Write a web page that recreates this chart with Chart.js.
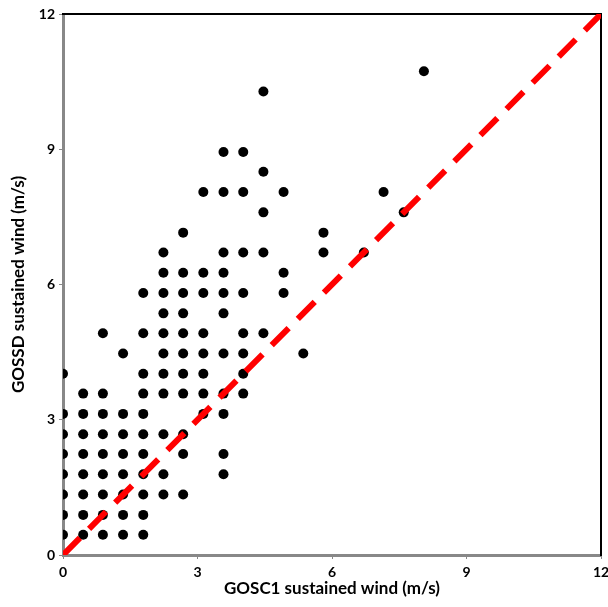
<!DOCTYPE html>
<html>
<head>
<meta charset="utf-8">
<script src="https://cdn.jsdelivr.net/npm/chart.js@4"></script>
<style>
  html, body { margin: 0; padding: 0; background: #fff; }
  #wrap { width: 608px; height: 607px; }
</style>
</head>
<body>
<div id="wrap"><canvas id="c" width="608" height="607"></canvas></div>
<script>
// GOSC1 sustained wind (x, m/s) and GOSSD sustained wind (y, m/s), paired
const gosc1 = [
  0, 0.45, 0.89, 1.34, 1.79,                         // y 0.45
  0, 0.45, 0.89, 1.34, 1.79,                         // y 0.89
  0, 0.45, 0.89, 1.34, 1.79, 2.24, 2.68,             // y 1.34
  0, 0.45, 0.89, 1.34, 1.79, 2.24, 3.58,             // y 1.79
  0, 0.45, 0.89, 1.34, 1.79, 2.68, 3.58,             // y 2.24
  0, 0.45, 0.89, 1.34, 1.79, 2.24, 2.68,             // y 2.68
  0, 0.45, 0.89, 1.34, 1.79, 3.13, 3.58,             // y 3.13
  0.45, 0.89, 1.79, 2.24, 2.68, 3.13, 3.58, 4.02,    // y 3.58
  0, 1.79, 2.24, 2.68, 3.13, 4.02,                   // y 4.02
  1.34, 2.24, 2.68, 3.13, 3.58, 4.02, 5.36,          // y 4.47
  0.89, 1.79, 2.24, 2.68, 3.13, 4.02, 4.47,          // y 4.92
  2.24, 2.68, 3.58,                                  // y 5.36
  1.79, 2.24, 2.68, 3.13, 3.58, 4.02, 4.92,          // y 5.81
  2.24, 2.68, 3.13, 3.58, 4.92,                      // y 6.26
  2.24, 3.58, 4.02, 4.47, 5.81, 6.71,                // y 6.71
  2.68, 5.81,                                        // y 7.15
  4.47, 7.60,                                        // y 7.60
  3.13, 3.58, 4.02, 4.92, 7.15,                      // y 8.05
  4.47,                                              // y 8.50
  3.58, 4.02,                                        // y 8.94
  4.47,                                              // y 10.28
  8.05                                               // y 10.73
];
const gossd = [
  0.45, 0.45, 0.45, 0.45, 0.45,
  0.89, 0.89, 0.89, 0.89, 0.89,
  1.34, 1.34, 1.34, 1.34, 1.34, 1.34, 1.34,
  1.79, 1.79, 1.79, 1.79, 1.79, 1.79, 1.79,
  2.24, 2.24, 2.24, 2.24, 2.24, 2.24, 2.24,
  2.68, 2.68, 2.68, 2.68, 2.68, 2.68, 2.68,
  3.13, 3.13, 3.13, 3.13, 3.13, 3.13, 3.13,
  3.58, 3.58, 3.58, 3.58, 3.58, 3.58, 3.58, 3.58,
  4.02, 4.02, 4.02, 4.02, 4.02, 4.02,
  4.47, 4.47, 4.47, 4.47, 4.47, 4.47, 4.47,
  4.92, 4.92, 4.92, 4.92, 4.92, 4.92, 4.92,
  5.36, 5.36, 5.36,
  5.81, 5.81, 5.81, 5.81, 5.81, 5.81, 5.81,
  6.26, 6.26, 6.26, 6.26, 6.26,
  6.71, 6.71, 6.71, 6.71, 6.71, 6.71,
  7.15, 7.15,
  7.60, 7.60,
  8.05, 8.05, 8.05, 8.05, 8.05,
  8.50,
  8.94, 8.94,
  10.28,
  10.73
];
// 1:1 reference line endpoints
const oneToOneX = [0, 12];
const oneToOneY = [0, 12];
// axis range and tick step
const axisMin = 0, axisMax = 12, tickStep = 3;
const xTitle = 'GOSC1 sustained wind (m/s)';
const yTitle = 'GOSSD sustained wind (m/s)';

const points = gosc1.map((x, i) => ({ x: x, y: gossd[i] }));
const linePts = oneToOneX.map((x, i) => ({ x: x, y: oneToOneY[i] }));

const FONT = 'Lato, "Open Sans", sans-serif';
const tickFont = { family: FONT, size: 14, weight: 'bold' };
const titleFont = { family: FONT, size: 17, weight: 'bold' };

new Chart(document.getElementById('c'), {
  data: {
    datasets: [
      {
        type: 'line',
        data: linePts,
        borderColor: '#ff0000',
        borderWidth: 6,
        borderDash: [24, 13],
        borderCapStyle: 'butt',
        pointRadius: 0,
        fill: false,
        order: 0
      },
      {
        type: 'scatter',
        data: points,
        backgroundColor: '#000000',
        borderWidth: 0,
        pointRadius: 5,
        pointHoverRadius: 5,
        order: 1
      }
    ]
  },
  options: {
    responsive: false,
    animation: false,
    events: [],
    plugins: { legend: { display: false }, tooltip: { enabled: false } },
    layout: { padding: { top: 14, right: 7, left: 0, bottom: 0 } },
    scales: {
      x: {
        type: 'linear', position: 'bottom', min: axisMin, max: axisMax,
        ticks: { stepSize: tickStep, font: tickFont, color: '#000', padding: 5, maxRotation: 0 },
        grid: { display: true, drawOnChartArea: false, drawTicks: true, tickLength: 4, color: '#888888', lineWidth: 1 },
        border: { display: true, color: '#888888', width: 3 },
        title: { display: true, text: xTitle, font: titleFont, color: '#000', padding: { top: 0, bottom: 8 } },
        afterFit(s) { s.height = 52; s.paddingLeft = 0; s.paddingRight = 0; }
      },
      y: {
        type: 'linear', position: 'left', min: axisMin, max: axisMax,
        ticks: { stepSize: tickStep, font: tickFont, color: '#000', padding: 4 },
        grid: { display: true, drawOnChartArea: false, drawTicks: true, tickLength: 4, color: '#888888', lineWidth: 1 },
        border: { display: true, color: '#888888', width: 3 },
        title: { display: true, text: yTitle, font: titleFont, color: '#000', padding: { top: 8, bottom: 0 } },
        afterFit(s) { s.width = 63; s.paddingTop = 0; s.paddingBottom = 0; }
      },
      x2: {
        type: 'linear', position: 'top', min: axisMin, max: axisMax,
        ticks: { display: false }, grid: { display: false },
        border: { display: true, color: '#000000', width: 2 },
        afterFit(s) { s.height = 0; }
      },
      y2: {
        type: 'linear', position: 'right', min: axisMin, max: axisMax,
        ticks: { display: false }, grid: { display: false },
        border: { display: true, color: '#000000', width: 2 },
        afterFit(s) { s.width = 0; }
      }
    }
  }
});
</script>
</body>
</html>
